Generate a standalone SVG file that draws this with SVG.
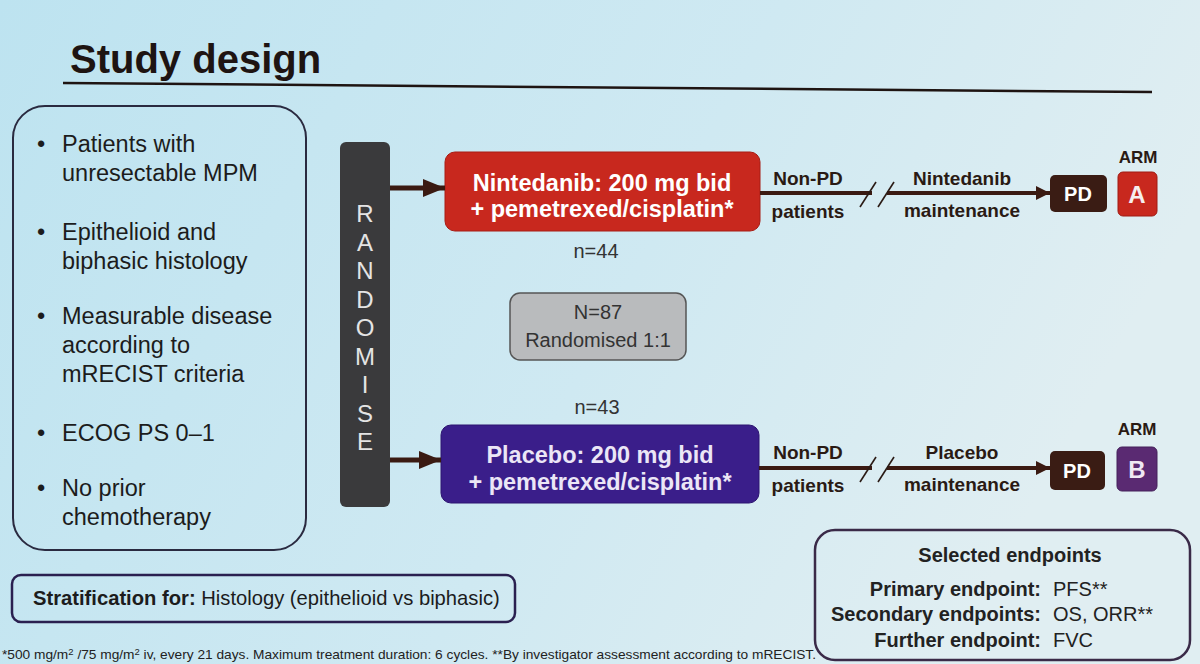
<svg xmlns="http://www.w3.org/2000/svg" width="1200" height="664" viewBox="0 0 1200 664">
<defs>
<linearGradient id="bg" x1="0" y1="0" x2="1" y2="0.3">
<stop offset="0" stop-color="#bde3f0"/>
<stop offset="0.6" stop-color="#cfe9f2"/>
<stop offset="1" stop-color="#e0eef2"/>
</linearGradient>
<marker id="bigHead" markerUnits="userSpaceOnUse" markerWidth="22" markerHeight="18" refX="22" refY="9" orient="auto">
<path d="M0,0 L22,9 L0,18 Z" fill="#3a1a12"/>
</marker>
<marker id="smallHead" markerUnits="userSpaceOnUse" markerWidth="14" markerHeight="14" refX="14" refY="7" orient="auto">
<path d="M0,0 L14,7 L0,14 Z" fill="#3a1a12"/>
</marker>
<style>
text{font-family:"Liberation Sans",Arial,sans-serif}
.b{font-weight:bold}
.bul{font-size:23.5px;fill:#1c1c1c}
.box{font-size:23.5px;font-weight:bold;text-anchor:middle}
.lbl{font-size:19px;font-weight:bold;fill:#2a1a14;text-anchor:middle}
.n{font-size:20px;fill:#333;text-anchor:middle}
.rl{font-size:24px;fill:#e4e4e4;text-anchor:middle}
.conn{stroke:#3a1a12;fill:none}
.slash{stroke:#2a1a14;stroke-width:1.6}
.ep{font-size:20px;fill:#222}
</style>
</defs>
<rect width="1200" height="664" fill="url(#bg)"/>

<g id="title">
<text x="70" y="73" class="b" font-size="40" fill="#1e1412">Study design</text>
<line x1="63" y1="83" x2="1152" y2="92" stroke="#1e1412" stroke-width="2.5"/>
</g>

<g id="criteria">
<rect x="13" y="106" width="293" height="444" rx="32" fill="none" stroke="#2a2a40" stroke-width="2"/>
<g class="bul">
<text x="37" y="152">•</text>
<text x="62" y="152">Patients with</text>
<text x="62" y="181">unresectable MPM</text>
<text x="37" y="240">•</text>
<text x="62" y="240">Epithelioid and</text>
<text x="62" y="269">biphasic histology</text>
<text x="37" y="324">•</text>
<text x="62" y="324">Measurable disease</text>
<text x="62" y="353">according to</text>
<text x="62" y="382">mRECIST criteria</text>
<text x="37" y="441">•</text>
<text x="62" y="441">ECOG PS 0–1</text>
<text x="37" y="496">•</text>
<text x="62" y="496">No prior</text>
<text x="62" y="525">chemotherapy</text>
</g>
</g>

<g id="randomise">
<rect x="340" y="142" width="50" height="365" rx="6" fill="#3a3a3c"/>
<text x="365" y="222" class="rl">R</text>
<text x="365" y="251" class="rl">A</text>
<text x="365" y="279" class="rl">N</text>
<text x="365" y="308" class="rl">D</text>
<text x="365" y="336" class="rl">O</text>
<text x="365" y="365" class="rl">M</text>
<text x="365" y="393" class="rl">I</text>
<text x="365" y="422" class="rl">S</text>
<text x="365" y="450" class="rl">E</text>
</g>

<g id="armA-treatment">
<rect x="445" y="152" width="315" height="79" rx="10" fill="#c8281e" stroke="#a81c14" stroke-width="1"/>
<text x="602" y="191" class="box" fill="#ffffff">Nintedanib: 200 mg bid</text>
<text x="602" y="217" class="box" fill="#ffffff">+ pemetrexed/cisplatin*</text>
</g>
<text x="596" y="258" class="n">n=44</text>

<g id="randomised">
<rect x="510" y="293" width="176" height="67" rx="10" fill="#b9bbbd" stroke="#555" stroke-width="1.5"/>
<text x="598" y="319" class="n" fill="#222">N=87</text>
<text x="598" y="347" class="n" fill="#222">Randomised 1:1</text>
</g>
<text x="597" y="414" class="n">n=43</text>

<g id="armB-treatment">
<rect x="441" y="425" width="318" height="78" rx="10" fill="#3a1e8a" stroke="#2c1470" stroke-width="1"/>
<text x="600" y="463" class="box" fill="#ebe6f6">Placebo: 200 mg bid</text>
<text x="600" y="490" class="box" fill="#ebe6f6">+ pemetrexed/cisplatin*</text>
</g>

<g id="pdA">
<rect x="1050" y="175" width="57" height="37" rx="5" fill="#3a1c14"/>
<text x="1078" y="201" class="b" font-size="20" fill="#fff" text-anchor="middle">PD</text>
</g>
<g id="armA">
<text x="1138" y="163" class="b" font-size="17" fill="#2a1a14" text-anchor="middle">ARM</text>
<rect x="1118" y="172" width="39" height="44" rx="5" fill="#c8281e" stroke="#a01a12" stroke-width="1"/>
<text x="1137" y="203" class="b" font-size="24" fill="#f6eeee" text-anchor="middle">A</text>
</g>

<g id="pdB">
<rect x="1050" y="451" width="55" height="39" rx="5" fill="#3a1c14"/>
<text x="1077" y="478" class="b" font-size="20" fill="#fff" text-anchor="middle">PD</text>
</g>
<g id="armB">
<text x="1137" y="435" class="b" font-size="17" fill="#2a1a14" text-anchor="middle">ARM</text>
<rect x="1117" y="447" width="40" height="44" rx="5" fill="#5a2a72" stroke="#44205a" stroke-width="1"/>
<text x="1137" y="478" class="b" font-size="24" fill="#f0e8f4" text-anchor="middle">B</text>
</g>

<g id="connectors">
<line x1="390" y1="188" x2="445" y2="188" class="conn" stroke-width="5" marker-end="url(#bigHead)"/>
<line x1="390" y1="460" x2="441" y2="460" class="conn" stroke-width="5" marker-end="url(#bigHead)"/>
<line x1="760" y1="193" x2="872" y2="193" class="conn" stroke-width="4"/>
<line x1="887" y1="193" x2="1050" y2="193" class="conn" stroke-width="4" marker-end="url(#smallHead)"/>
<line x1="860" y1="207" x2="876" y2="182" class="slash"/>
<line x1="878" y1="207" x2="894" y2="182" class="slash"/>
<line x1="759" y1="468" x2="872" y2="468" class="conn" stroke-width="4"/>
<line x1="887" y1="468" x2="1050" y2="468" class="conn" stroke-width="4" marker-end="url(#smallHead)"/>
<line x1="860" y1="482" x2="876" y2="457" class="slash"/>
<line x1="878" y1="482" x2="894" y2="457" class="slash"/>
<text x="808" y="185" class="lbl">Non-PD</text>
<text x="808" y="218" class="lbl">patients</text>
<text x="962" y="185" class="lbl" font-size="17">Nintedanib</text>
<text x="962" y="217" class="lbl" font-size="17">maintenance</text>
<text x="808" y="459" class="lbl">Non-PD</text>
<text x="808" y="492" class="lbl">patients</text>
<text x="962" y="459" class="lbl" font-size="17">Placebo</text>
<text x="962" y="491" class="lbl" font-size="17">maintenance</text>
</g>

<g id="stratification">
<rect x="12" y="575" width="503" height="47" rx="9" fill="none" stroke="#2a2050" stroke-width="2.5"/>
<text x="33" y="605" font-size="20.2" fill="#1c1c1c"><tspan class="b">Stratification for:</tspan> Histology (epithelioid vs biphasic)</text>
</g>

<g id="endpoints">
<rect x="815" y="530" width="375" height="130" rx="20" fill="none" stroke="#3a2a48" stroke-width="2.5"/>
<text x="1010" y="562" class="ep b" text-anchor="middle">Selected endpoints</text>
<text x="1041" y="596" class="ep b" text-anchor="end">Primary endpoint:</text>
<text x="1053" y="596" class="ep">PFS**</text>
<text x="1041" y="621" class="ep b" text-anchor="end">Secondary endpoints:</text>
<text x="1053" y="621" class="ep">OS, ORR**</text>
<text x="1041" y="647" class="ep b" text-anchor="end">Further endpoint:</text>
<text x="1053" y="647" class="ep">FVC</text>
</g>

<g id="footnote">
<text x="2" y="659" font-size="13" fill="#222" textLength="814" lengthAdjust="spacingAndGlyphs">*500 mg/m<tspan dy="-4" font-size="9">2</tspan><tspan dy="4"> /75 mg/m</tspan><tspan dy="-4" font-size="9">2</tspan><tspan dy="4"> iv, every 21 days. Maximum treatment duration: 6 cycles. **By investigator assessment according to mRECIST.</tspan></text>
</g>
</svg>
